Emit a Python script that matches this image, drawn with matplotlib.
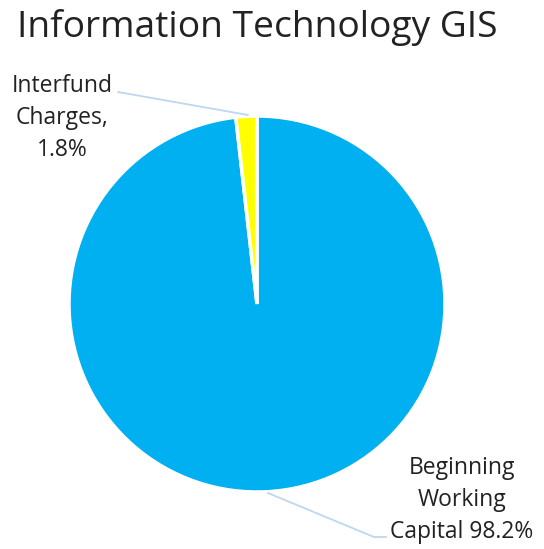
import matplotlib.pyplot as plt

categories = ["Beginning\nWorking\nCapital 98.2%", "Interfund\nCharges,\n1.8%"]
values = [98.2, 1.8]
colors = ["#00B0F0", "#FFFF00"]
title = "Information Technology GIS"

W, H = 544, 549
plt.rcParams['font.family'] = ['Open Sans', 'DejaVu Sans']

fig = plt.figure(figsize=(W / 100, H / 100), dpi=100)
ax = fig.add_axes([0, 0, 1, 1])
ax.set_xlim(0, W)
ax.set_ylim(0, H)
ax.axis('off')

# pie in pixel space (y from bottom)
cx, cy, r = 257, H - 304, 188
ax.pie(values, colors=colors, startangle=90, counterclock=False,
       center=(cx, cy), radius=r,
       wedgeprops=dict(edgecolor='white', linewidth=2.5))
ax.set_xlim(0, W)
ax.set_ylim(0, H)
ax.set_aspect('equal')

line_col = "#BDD7EE"
txt = dict(fontsize=16.5, color="#222222", ha='center', va='center', linespacing=1.45)

# Interfund label + leader
ax.text(62, H - 118, categories[1], **txt)
ax.annotate("", xy=(248, H - 115), xytext=(118, H - 92),
            arrowprops=dict(arrowstyle='-', color=line_col, lw=1.3,
                            shrinkA=0, shrinkB=0))

# Beginning label + leader
ax.text(462, H - 500, categories[0], **txt)
ax.plot([268, 374, 386], [H - 493, H - 537, H - 537], color=line_col, lw=1.3)

fig.text(17 / W, 1 - 27 / H, title, fontsize=26.7, color="#222222", ha='left', va='center')

fig.savefig("out.png", dpi=100)
